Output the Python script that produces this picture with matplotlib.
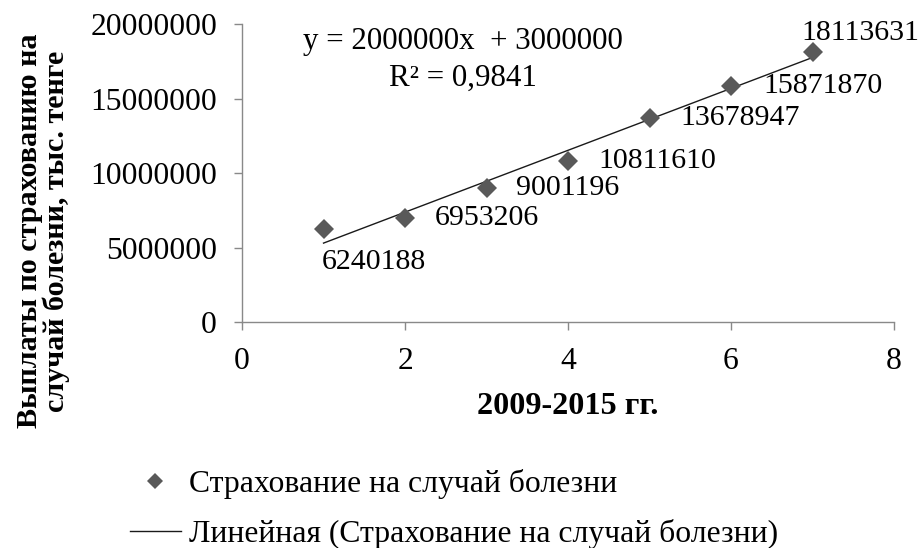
import numpy as np
import matplotlib
matplotlib.use("Agg")
import matplotlib.pyplot as plt
from matplotlib.ticker import FuncFormatter

# Данные: выплаты по страхованию на случай болезни, 2009-2015
x_vals = [1, 2, 3, 4, 5, 6, 7]
y_vals = [6240188, 6953206, 9001196, 10811610, 13678947, 15871870, 18113631]
x_ticks = [0, 2, 4, 6, 8]
y_ticks = [0, 5000000, 10000000, 15000000, 20000000]

eq_text = "y = 2000000x  + 3000000\nR² = 0,9841"
series_name = "Страхование на случай болезни"
trend_name = "Линейная (Страхование на случай болезни)"

plt.rcParams["font.family"] = ["Liberation Serif", "DejaVu Serif"]
fs = 21.5
axis_gray = "#898989"
marker_col = "#595959"

fig = plt.figure(figsize=(9.22, 5.48), dpi=100)
ax = fig.add_axes([0.2625, 0.4124, 0.7072, 0.5438])

# точки
pts, = ax.plot(x_vals, y_vals, linestyle="none", marker="D", markersize=10,
               color=marker_col, markeredgewidth=0, label=series_name, zorder=3)

# линейный тренд
k, b = np.polyfit(x_vals, y_vals, 1)
xs = np.array([x_vals[0], x_vals[-1]])
trend, = ax.plot(xs, k * xs + b, color="#1a1a1a", linewidth=1.0,
                 label=trend_name, zorder=2)

# подписи значений
offsets = [(-1.5, -24), (21.5, 0), (21.5, 0), (22, 0), (22, 0), (23, 0), (-8, 14)]
for xv, yv, off in zip(x_vals, y_vals, offsets):
    ax.annotate(str(yv), (xv, yv), xytext=off, textcoords="offset points",
                ha="left", va="center", fontsize=fs, color="black")

ax.text(0.339, 0.88, eq_text, transform=ax.transAxes, ha="center", va="center",
        multialignment="center", fontsize=22.3, linespacing=1.33)

ax.set_xlim(0, 8)
ax.set_ylim(0, 20000000)
ax.set_xticks(x_ticks)
ax.set_yticks(y_ticks)
ax.yaxis.set_major_formatter(FuncFormatter(lambda v, p: "%d" % v))

for s in ["top", "right"]:
    ax.spines[s].set_visible(False)
for s in ["left", "bottom"]:
    ax.spines[s].set_color(axis_gray)
    ax.spines[s].set_linewidth(1.0)
ax.tick_params(axis="both", direction="out", length=6, width=1.0,
               color=axis_gray, labelsize=22.8, pad=12)

ax.set_xlabel("2009-2015 гг.", fontsize=23.2, fontweight="bold")
ax.xaxis.label.set_va("center")
ax.xaxis.set_label_coords(0.5, -0.282)
ax.set_ylabel("Выплаты по страхованию на\nслучай болезни, тыс. тенге",
              fontsize=21.7, fontweight="bold", multialignment="center",
              linespacing=1.0)
ax.yaxis.label.set_va("center")
ax.yaxis.set_label_coords(-0.305, 0.305)

fig.legend(handles=[pts, trend], loc="upper left",
           bbox_to_anchor=(130 / 922, 1 - 469 / 548), frameon=False,
           fontsize=22.8, handlelength=1.6, handletextpad=0.25,
           labelspacing=0.62, markerscale=0.8, borderpad=0, borderaxespad=0)

fig.savefig("out.png", dpi=100)
